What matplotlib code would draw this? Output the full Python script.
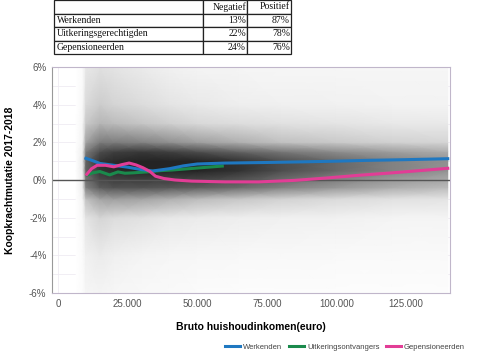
import numpy as np
import matplotlib
matplotlib.use('Agg')
import matplotlib.pyplot as plt
from matplotlib.ticker import FuncFormatter

plt.rcParams['font.family'] = ['Liberation Sans', 'DejaVu Sans']

# table data
tab_rows = ['Werkenden', 'Uitkeringsgerechtigden', 'Gepensioneerden']
tab_cols = ['', 'Negatief', 'Positief']
negatief = ['13%', '22%', '24%']
positief = ['87%', '78%', '76%']

# lines (income in euro, purchasing power change in %)
werk_x = [10000, 12000, 15000, 20000, 25000, 30000, 34000, 40000, 45000, 50000,
          60000, 75000, 90000, 100000, 110000, 125000, 140000]
werk_y = [1.15, 1.05, 0.88, 0.78, 0.68, 0.55, 0.48, 0.6, 0.75, 0.85,
          0.9, 0.93, 0.97, 1.0, 1.04, 1.08, 1.13]
uitk_x = [10500, 12500, 15000, 18500, 21500, 24000, 27000, 32000, 37000, 41000,
          47000, 53000, 59000]
uitk_y = [0.27, 0.38, 0.45, 0.27, 0.43, 0.36, 0.38, 0.43, 0.5, 0.53,
          0.6, 0.67, 0.74]
pens_x = [10300, 12000, 14000, 17000, 20000, 23000, 25500, 28000, 30500, 33000,
          35000, 38000, 42000, 48000, 60000, 72000, 85000, 96000, 108000, 120000,
          130000, 140000]
pens_y = [0.3, 0.6, 0.78, 0.78, 0.7, 0.82, 0.9, 0.8, 0.65, 0.45,
          0.2, 0.08, 0.0, -0.06, -0.1, -0.1, -0.02, 0.1, 0.25, 0.38,
          0.5, 0.62]

# scatter cloud as darkness (0 white .. 1 black)
dens_x = [6500, 8800, 10000, 15000, 20000, 30000, 40000, 50000, 65000, 80000,
          100000, 120000, 140000]
dens_y = [-6, -4, -2, -1, -0.4, 0.5, 1, 1.5, 2, 3, 4, 6]
dens = [
    [0.00, 0.00, 0.01, 0.01, 0.02, 0.02, 0.02, 0.02, 0.01, 0.01, 0.00, 0.00],
    [0.03, 0.04, 0.06, 0.1, 0.14, 0.16, 0.16, 0.14, 0.1, 0.08, 0.06, 0.04],
    [0.08, 0.12, 0.2, 0.38, 0.6, 0.72, 0.72, 0.62, 0.48, 0.34, 0.26, 0.18],
    [0.1, 0.16, 0.28, 0.48, 0.75, 0.87, 0.87, 0.8, 0.62, 0.42, 0.32, 0.22],
    [0.08, 0.13, 0.25, 0.5, 0.78, 0.9, 0.9, 0.84, 0.62, 0.4, 0.29, 0.2],
    [0.06, 0.1, 0.22, 0.48, 0.78, 0.92, 0.92, 0.86, 0.6, 0.36, 0.25, 0.16],
    [0.05, 0.08, 0.18, 0.44, 0.76, 0.92, 0.92, 0.84, 0.55, 0.31, 0.2, 0.12],
    [0.04, 0.07, 0.16, 0.4, 0.74, 0.92, 0.92, 0.8, 0.5, 0.27, 0.17, 0.1],
    [0.03, 0.06, 0.14, 0.35, 0.68, 0.88, 0.88, 0.72, 0.44, 0.24, 0.14, 0.09],
    [0.03, 0.06, 0.13, 0.3, 0.6, 0.8, 0.8, 0.64, 0.38, 0.22, 0.13, 0.08],
    [0.03, 0.05, 0.12, 0.26, 0.52, 0.7, 0.7, 0.56, 0.34, 0.2, 0.12, 0.08],
    [0.03, 0.05, 0.1, 0.22, 0.45, 0.6, 0.6, 0.5, 0.3, 0.18, 0.11, 0.08],
    [0.03, 0.05, 0.1, 0.2, 0.4, 0.54, 0.54, 0.45, 0.28, 0.17, 0.11, 0.08],
]

fig = plt.figure(figsize=(4.8, 3.58), dpi=100)
ax = fig.add_axes([52/480, 1-293/358, 398/480, 226/358])

# faint grid
for v in range(-6, 7):
    ax.axhline(v, color='#efebf2', lw=0.6, zorder=0)
for v in range(0, 150000, 25000):
    ax.axvline(v, color='#efebf2', lw=0.6, zorder=0)

X, Y = np.meshgrid(dens_x, dens_y)
ax.pcolormesh(X, Y, np.array(dens).T, shading='gouraud', cmap='Greys',
              vmin=0, vmax=1.05, zorder=1)

ax.axhline(0, color='#555555', lw=1, zorder=2)

ax.plot(werk_x, werk_y, color='#1f78c1', lw=2.2, label='Werkenden', zorder=4)
ax.plot(uitk_x, uitk_y, color='#1a8a4c', lw=2.2, label='Uitkeringsontvangers', zorder=3)
ax.plot(pens_x, pens_y, color='#e23d96', lw=2.2, label='Gepensioneerden', zorder=5)

ax.set_xlim(-2200, 140800)
ax.set_ylim(-6, 6)
ax.set_xticks([0, 25000, 50000, 75000, 100000, 125000])
ax.set_yticks([-6, -4, -2, 0, 2, 4, 6])
ax.xaxis.set_major_formatter(FuncFormatter(lambda v, p: f'{int(v):,}'.replace(',', '.')))
ax.yaxis.set_major_formatter(FuncFormatter(lambda v, p: f'{int(v)}%'))
ax.tick_params(length=0, labelsize=7, labelcolor='#555555', pad=4)
for s in ax.spines.values():
    s.set_color('#c0b6ca')
    s.set_linewidth(0.8)
ax.spines['left'].set_color('#999999')

ax.set_xlabel('Bruto huishoudinkomen(euro)', fontsize=7.5, fontweight='bold', labelpad=10)
ax.set_ylabel('Koopkrachtmutatie 2017-2018', fontsize=7.5, fontweight='bold', labelpad=10)

fig.legend(loc='center', bbox_to_anchor=(345/480, 1-347/358), ncol=3, frameon=False,
           fontsize=5.5, handlelength=2.0, handletextpad=0.4, columnspacing=0.8,
           labelcolor='#444444')

# table at top
ax_t = fig.add_axes([54/480, 1-54/358, 237/480, 54/358])
ax_t.axis('off')
cells = [tab_cols] + [[r, n, p] for r, n, p in zip(tab_rows, negatief, positief)]
tbl = ax_t.table(cellText=cells, bbox=[0, 0, 1, 1], colWidths=[149, 44, 44])
tbl.auto_set_font_size(False)
for (r, c), cell in tbl.get_celld().items():
    cell.set_linewidth(0.9)
    cell.set_edgecolor('#222222')
    t = cell.get_text()
    t.set_fontfamily(['Liberation Serif', 'DejaVu Serif'])
    t.set_fontsize(7)
    t.set_color('#111111')
    cell.PAD = 0.02
    if c == 0:
        cell.set_text_props(ha='left')
        cell._loc = 'left'
    else:
        cell._loc = 'right'

fig.savefig('out.png', dpi=100)
